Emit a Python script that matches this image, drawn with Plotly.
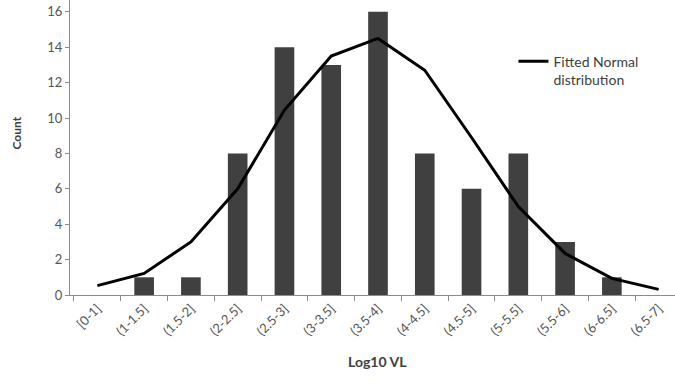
import plotly.graph_objects as go

categories = ["[0-1]", "(1-1.5]", "(1.5-2]", "(2-2.5]", "(2.5-3]", "(3-3.5]", "(3.5-4]",
              "(4-4.5]", "(4.5-5]", "(5-5.5]", "(5.5-6]", "(6-6.5]", "(6.5-7]"]
counts = [0, 1, 1, 8, 14, 13, 16, 8, 6, 8, 3, 1, 0]
fitted_normal = [0.53, 1.22, 3.0, 6.0, 10.45, 13.5, 14.5, 12.7, 8.9, 5.0, 2.35, 0.94, 0.32]
y_ticks = [0, 2, 4, 6, 8, 10, 12, 14, 16]

FONT = "Lato"
GRAY = "#555555"

fig = go.Figure()
fig.add_trace(go.Bar(x=categories, y=counts, marker=dict(color="#404040", line_width=0),
                     width=0.42, showlegend=False))
fig.add_trace(go.Scatter(x=categories, y=fitted_normal, mode="lines",
                         line=dict(color="black", width=3),
                         name="Fitted Normal<br>distribution"))

fig.update_layout(
    width=675, height=383,
    margin=dict(l=70, r=0, t=0, b=88),
    paper_bgcolor="white", plot_bgcolor="white",
    font=dict(family=FONT, color=GRAY, size=12),
    legend=dict(x=0.733, y=0.845, xanchor="left", yanchor="top", valign="top",
                font=dict(size=14, color="#404040"), bgcolor="rgba(0,0,0,0)",
                itemwidth=30, tracegroupgap=0),
)
fig.update_xaxes(
    type="category", range=[-0.585, 12.35],
    showline=True, linecolor="#8c8c8c", linewidth=1,
    ticks="outside", tickson="boundaries", ticklen=5, tickcolor="#8c8c8c",
    tickangle=-45, tickfont=dict(size=13, color=GRAY),
    showgrid=False, zeroline=False,
)
fig.update_yaxes(
    range=[0, 16.67], tickvals=y_ticks,
    showline=True, linecolor="#8c8c8c", linewidth=1,
    ticks="outside", ticklen=4, tickcolor="#8c8c8c",
    tickfont=dict(size=13, color=GRAY),
    showgrid=False, zeroline=False,
)
fig.add_annotation(text="<b>Count</b>", textangle=-90, xref="paper", yref="paper",
                   x=-0.088, y=0.55, xanchor="center", yanchor="middle", showarrow=False,
                   font=dict(size=12, color="#404040", family=FONT))
fig.add_annotation(text="<b>Log10 VL</b>", xref="paper", yref="paper",
                   x=(377 - 70) / 605, y=-0.224, xanchor="center", yanchor="middle",
                   showarrow=False, font=dict(size=14, color="#404040", family=FONT))

fig.write_html("out.html")
